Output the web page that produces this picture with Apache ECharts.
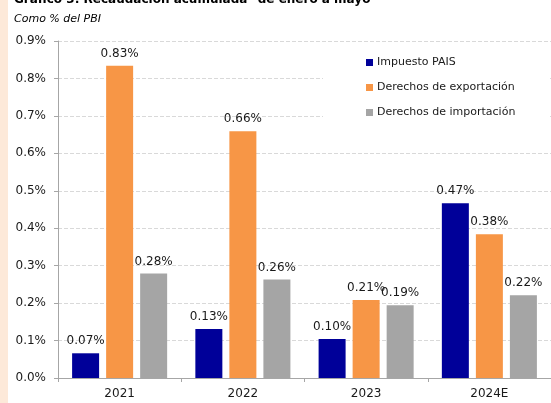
<!DOCTYPE html>
<html>
<head>
<meta charset="utf-8">
<script src="https://cdn.jsdelivr.net/npm/echarts@6/dist/echarts.min.js"></script>
<style>
    html, body { margin: 0; padding: 0; background: #fff; }
    #chart { width: 551px; height: 403px; }
</style>
</head>
<body>
<div id="chart"></div>
<script>
const categories = ['2021', '2022', '2023', '2024E'];
const impuestoPais = [0.066, 0.131, 0.104, 0.467];
const derechosExport = [0.834, 0.659, 0.208, 0.384];
const derechosImport = [0.279, 0.263, 0.194, 0.221];
const yTicks = [0, 0.1, 0.2, 0.3, 0.4, 0.5, 0.6, 0.7, 0.8, 0.9];

const font = 'DejaVu Sans';

const barLabel = {
    show: true,
    position: 'top',
    distance: 6,
    color: '#1a1a1a',
    fontFamily: font,
    fontSize: 12,
    formatter: (p) => p.value.toFixed(2) + '%'
};

const makeSeries = (name, data, color) => ({
    name: name,
    type: 'bar',
    data: data,
    barWidth: 27,
    barGap: '26%',
    itemStyle: { color: color },
    label: barLabel
});

let option = {
    backgroundColor: '#ffffff',
    animation: false,
    title: {
        text: 'Gráfico 3: Recaudación acumulada" de enero a mayo',
        subtext: 'Como % del PBI',
        left: 9,
        top: -11,
        itemGap: 8,
        textStyle: { fontFamily: font, fontSize: 12, fontWeight: 'bold', color: '#000' },
        subtextStyle: { fontFamily: font, fontSize: 11, fontStyle: 'italic', color: '#000' }
    },
    graphic: [{
        type: 'rect',
        left: 0,
        top: 0,
        z: -1,
        shape: { width: 8, height: 403 },
        style: { fill: '#fde9d9' }
    }],
    legend: {
        orient: 'vertical',
        left: 323,
        top: 48,
        padding: [9, 34, 10, 43],
        backgroundColor: '#ffffff',
        itemWidth: 7,
        itemHeight: 7,
        itemGap: 14,
        icon: 'rect',
        z: 5,
        textStyle: { fontFamily: font, fontSize: 11, color: '#1a1a1a', padding: [0, 0, 0, -1] },
        data: ['Impuesto PAIS', 'Derechos de exportación', 'Derechos de importación']
    },
    grid: {
        left: 58,
        top: 41,
        bottom: 25,
        width: 500,
        containLabel: false
    },
    xAxis: {
        type: 'category',
        data: categories,
        axisLine: { lineStyle: { color: '#a6a6a6' } },
        axisTick: { show: true, length: 4, lineStyle: { color: '#a6a6a6' } },
        axisLabel: { fontFamily: font, fontSize: 12, color: '#1a1a1a', margin: 10 }
    },
    yAxis: {
        type: 'value',
        min: 0,
        max: 0.9,
        interval: 0.1,
        axisLine: { show: true, lineStyle: { color: '#a6a6a6' } },
        axisTick: { show: true, length: 4, lineStyle: { color: '#a6a6a6' } },
        axisLabel: {
            fontFamily: font,
            fontSize: 12,
            color: '#1a1a1a',
            margin: 12,
            formatter: (v) => {
                // snap to tick list to avoid float noise
                let t = yTicks.reduce((a, b) => Math.abs(b - v) < Math.abs(a - v) ? b : a);
                return t.toFixed(1) + '%';
            }
        },
        splitLine: {
            show: true,
            lineStyle: { color: '#d9d9d9', type: [4, 2] }
        }
    },
    series: [
        makeSeries('Impuesto PAIS', impuestoPais, '#000099'),
        makeSeries('Derechos de exportación', derechosExport, '#f79646'),
        makeSeries('Derechos de importación', derechosImport, '#a5a5a5')
    ]
};

let myChart = echarts.init(document.getElementById('chart'), null, { renderer: 'canvas' });
myChart.setOption(option);
</script>
</body>
</html>
